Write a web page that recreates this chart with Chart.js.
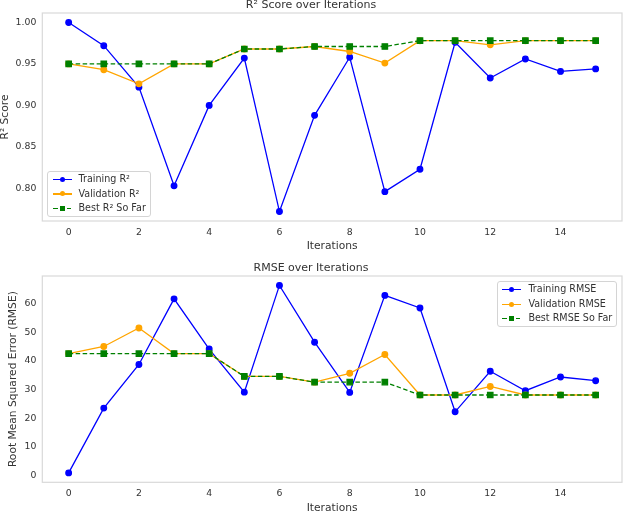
<!DOCTYPE html>
<html>
<head>
<meta charset="utf-8">
<script src="https://cdn.jsdelivr.net/npm/chart.js@4.4.0/dist/chart.umd.min.js"></script>
<style>
    body { margin: 0; background: #fff; font-family: "DejaVu Sans", sans-serif; }
    .wrap { position: absolute; left: 0; width: 623px; }
    #topWrap { top: 0; height: 252px; }
    #botWrap { top: 260px; height: 253px; }
    .legend {
        position: absolute;
        background: rgba(255, 255, 255, 0.8);
        border: 1px solid #d4d4d4;
        border-radius: 3px;
        padding: 0.5px 4px 0.5px 4.5px;
        font-size: 9.6px;
        color: #333;
    }
    .legend-item { position: relative; height: 14.5px; line-height: 14.5px; white-space: nowrap; padding-left: 26px; }
    .legend-line { position: absolute; left: 0; top: 6.8px; width: 19px; height: 1.3px; }
    .legend-mark { position: absolute; left: 7px; top: -2px; width: 5px; height: 5px; }
    #legendTop { left: 47px; top: 170.5px; }
    #legendBot { right: 5.7px; top: 280.8px; }
</style>
</head>
<body>
<div class="wrap" id="topWrap"><canvas id="chartR2"></canvas></div>
<div class="wrap" id="botWrap"><canvas id="chartRmse"></canvas></div>
<div class="legend" id="legendTop"></div>
<div class="legend" id="legendBot"></div>
<script>
// iterations on the x axis
const iterations = [0, 1, 2, 3, 4, 5, 6, 7, 8, 9, 10, 11, 12, 13, 14, 15];

// R² values
const trainR2 = [1.000, 0.972, 0.922, 0.803, 0.900, 0.957, 0.772, 0.888, 0.958, 0.796, 0.823, 0.976, 0.933, 0.956, 0.941, 0.944];
const valR2 = [0.950, 0.943, 0.926, 0.950, 0.950, 0.968, 0.968, 0.971, 0.965, 0.951, 0.978, 0.978, 0.973, 0.978, 0.978, 0.978];
const bestR2 = [0.950, 0.950, 0.950, 0.950, 0.950, 0.968, 0.968, 0.971, 0.971, 0.971, 0.978, 0.978, 0.978, 0.978, 0.978, 0.978];

// RMSE values
const trainRmse = [0.8, 23.5, 38.8, 61.8, 44.2, 29.1, 66.5, 46.6, 29.0, 63.0, 58.6, 22.2, 36.4, 29.6, 34.4, 33.1];
const valRmse = [42.6, 45.1, 51.6, 42.6, 42.6, 34.6, 34.6, 32.6, 35.7, 42.3, 28.1, 28.1, 31.1, 28.1, 28.1, 28.1];
const bestRmse = [42.6, 42.6, 42.6, 42.6, 42.6, 34.6, 34.6, 32.6, 32.6, 32.6, 28.1, 28.1, 28.1, 28.1, 28.1, 28.1];

// tick labels
const xTicks = [0, 2, 4, 6, 8, 10, 12, 14];
const r2Ticks = [0.80, 0.85, 0.90, 0.95, 1.00];
const rmseTicks = [0, 10, 20, 30, 40, 50, 60];

const colors = { train: '#0000ff', val: '#ffa500', best: '#008000' };
const textColor = '#333';
const fontFamily = '"DejaVu Sans", sans-serif';

// light grey box round the plot area
const framePlugin = {
    id: 'frame',
    beforeDatasetsDraw(chart) {
        const { ctx, chartArea: a } = chart;
        ctx.save();
        ctx.strokeStyle = '#d9d9d9';
        ctx.lineWidth = 1.2;
        ctx.strokeRect(a.left, a.top, a.right - a.left, a.bottom - a.top);
        ctx.restore();
    }
};

function points(values) {
    return values.map((v, i) => ({ x: iterations[i], y: v }));
}

function makeSets(labels, train, val, best) {
    return [
        { label: labels[0], data: points(train), borderColor: colors.train, backgroundColor: colors.train,
          borderWidth: 1.3, pointRadius: 2.8, pointHoverRadius: 2.8, pointStyle: 'circle', order: 3 },
        { label: labels[1], data: points(val), borderColor: colors.val, backgroundColor: colors.val,
          borderWidth: 1.3, pointRadius: 2.8, pointHoverRadius: 2.8, pointStyle: 'circle', order: 2 },
        { label: labels[2], data: points(best), borderColor: colors.best, backgroundColor: colors.best,
          borderWidth: 1.3, borderDash: [4.5, 2.5], pointRadius: 3.8, pointHoverRadius: 3.8, pointStyle: 'rect', order: 1 }
    ];
}

function makeChart(canvasId, cfg) {
    const ctx = document.getElementById(canvasId);
    return new Chart(ctx, {
        type: 'line',
        data: { datasets: cfg.datasets },
        plugins: [framePlugin],
        options: {
            responsive: true,
            maintainAspectRatio: false,
            animation: false,
            layout: { autoPadding: false, padding: { top: cfg.padTop, right: 1, left: 0, bottom: 0 } },
            plugins: {
                legend: { display: false },
                tooltip: { enabled: false },
                title: {
                    display: true,
                    text: cfg.title,
                    color: textColor,
                    font: { family: fontFamily, size: 11, weight: 'normal', lineHeight: 1 },
                    padding: { top: 0, bottom: 2 }
                }
            },
            scales: {
                x: {
                    type: 'linear',
                    min: -0.75,
                    max: 15.75,
                    grid: { display: false, drawTicks: false },
                    border: { display: false },
                    afterFit: s => { s.height = cfg.xHeight; },
                    afterBuildTicks: s => { s.ticks = xTicks.map(v => ({ value: v })); },
                    ticks: { color: textColor, padding: 6, font: { family: fontFamily, size: 9.3 } },
                    title: {
                        display: true, text: 'Iterations', color: textColor,
                        font: { family: fontFamily, size: 10.7, lineHeight: cfg.xTitleLh },
                        padding: { top: 0, bottom: cfg.xTitlePad }
                    }
                },
                y: {
                    min: cfg.yMin,
                    max: cfg.yMax,
                    grid: { display: false, drawTicks: false },
                    border: { display: false },
                    afterFit: s => { s.width = 42.3; },
                    afterBuildTicks: s => { s.ticks = cfg.yTicks.map(v => ({ value: v })); },
                    ticks: {
                        color: textColor, padding: 6, font: { family: fontFamily, size: 9.3 },
                        callback: v => v.toFixed(cfg.decimals)
                    },
                    title: {
                        display: true, text: cfg.yTitle, color: textColor,
                        font: { family: fontFamily, size: 10.7, lineHeight: 1 },
                        padding: { top: cfg.yTitlePad, bottom: 0 }
                    }
                }
            }
        }
    });
}

makeChart('chartR2', {
    title: 'R² Score over Iterations',
    datasets: makeSets(['Training R²', 'Validation R²', 'Best R² So Far'], trainR2, valR2, bestR2),
    padTop: 0, xHeight: 31, xTitleLh: 1, xTitlePad: 0.6,
    yMin: 0.7606, yMax: 1.0114, yTicks: r2Ticks, decimals: 2,
    yTitle: 'R² Score', yTitlePad: 0
});

makeChart('chartRmse', {
    title: 'RMSE over Iterations',
    datasets: makeSets(['Training RMSE', 'Validation RMSE', 'Best RMSE So Far'], trainRmse, valRmse, bestRmse),
    padTop: 3, xHeight: 30.7, xTitleLh: 0.8, xTitlePad: 0,
    yMin: -2.5, yMax: 69.8, yTicks: rmseTicks, decimals: 0,
    yTitle: 'Root Mean Squared Error (RMSE)', yTitlePad: 8
});

// legend with line + marker sample, placed inside the plot
function createLegend(containerId, labels) {
    const box = document.getElementById(containerId);
    const kinds = ['train', 'val', 'best'];
    labels.forEach((label, i) => {
        const kind = kinds[i];
        const c = colors[kind];
        const lineBg = kind === 'best'
            ? `repeating-linear-gradient(to right, ${c} 0 4.5px, transparent 4.5px 7px)`
            : c;
        const mark = kind === 'best'
            ? `background:${c};`
            : `background:${c};border-radius:50%;`;
        const item = document.createElement('div');
        item.className = 'legend-item';
        item.innerHTML = `
            <span class="legend-line" style="background:${lineBg}">
                <span class="legend-mark" style="${mark}"></span>
            </span>
            <span class="legend-label">${label}</span>
        `;
        box.appendChild(item);
    });
}

createLegend('legendTop', ['Training R²', 'Validation R²', 'Best R² So Far']);
createLegend('legendBot', ['Training RMSE', 'Validation RMSE', 'Best RMSE So Far']);
</script>
</body>
</html>
